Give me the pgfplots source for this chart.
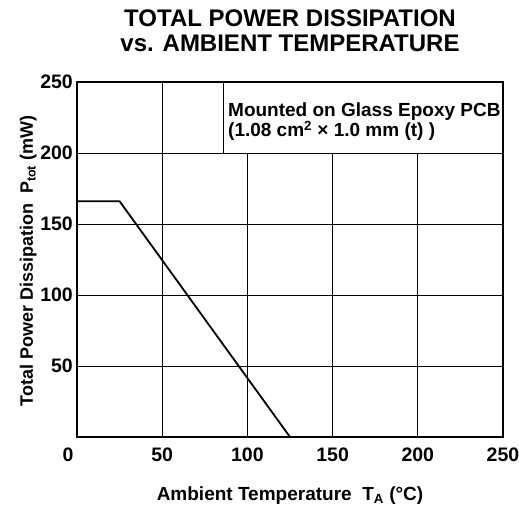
\documentclass[border=0pt]{standalone}
\usepackage{fontspec}
\setmainfont{Liberation Sans}
\usepackage{pgfplots}
\pgfplotsset{compat=1.18}

\begin{document}
\begin{tikzpicture}
\begin{axis}[
    name=ax,
    width=426pt, height=355pt,
    scale only axis,
    clip=false,
    xmin=0, xmax=250,
    ymin=0, ymax=250,
    xtick={50,100,...,250},
    ytick={50,100,...,250},
    extra x ticks={0},
    extra x tick style={grid=none, xticklabel style={xshift=-9pt}},
    grid=major,
    grid style={black, line width=0.9pt},
    axis line style={line width=1.8pt},
    major tick length=0pt,
    /pgf/number format/assume math mode=true,
    ticklabel style={font=\fontsize{19.5}{20}\selectfont\bfseries, inner sep=0pt},
    xticklabel style={anchor=north, yshift=-11pt},
    yticklabel style={anchor=east, xshift=-4pt},
]

\addplot[black, line width=1.8pt] coordinates {
    (0,166) (25,166) (125,0)
};

% note box in the upper right corner
\fill[white] (axis cs:85.7,200) rectangle (axis cs:250,250);
\draw[line width=0.9pt] (axis cs:85.7,250) -- (axis cs:85.7,200) -- (axis cs:250,200);
\draw[line width=1.8pt] (axis cs:85.7,250) -- (axis cs:250,250) -- (axis cs:250,200);
\node[anchor=base west, inner sep=0pt, font=\fontsize{19}{20}\selectfont\bfseries]
    at (axis cs:88.6,225.4) {Mounted on Glass Epoxy PCB};
\node[anchor=base west, inner sep=0pt, font=\fontsize{19}{20}\selectfont\bfseries]
    at (axis cs:88.6,211.3) {(1.08 cm\textsuperscript{2} × 1.0 mm (t) )};
\end{axis}

\node[anchor=base, inner sep=0pt, font=\fontsize{24}{25}\selectfont\bfseries]
    at ([shift={(213pt,410pt)}]ax.south west) {TOTAL POWER DISSIPATION};
\node[anchor=base, inner sep=0pt, font=\fontsize{24}{25}\selectfont\bfseries]
    at ([shift={(213pt,385pt)}]ax.south west) {vs. AMBIENT TEMPERATURE};
\node[anchor=base, inner sep=0pt, font=\fontsize{19}{20}\selectfont\bfseries]
    at ([shift={(213pt,-63pt)}]ax.south west) {Ambient Temperature\ \ T\textsubscript{A} (°C)};
\node[anchor=base, rotate=90, inner sep=0pt, font=\fontsize{18}{20}\selectfont\bfseries]
    at ([shift={(-44pt,176pt)}]ax.south west) {Total Power Dissipation\ \ P\textsubscript{tot} (mW)};

\pgfresetboundingbox
\path ([shift={(-77pt,-75pt)}]ax.south west) rectangle ([shift={(442pt,437pt)}]ax.south west);
\end{tikzpicture}
\end{document}
